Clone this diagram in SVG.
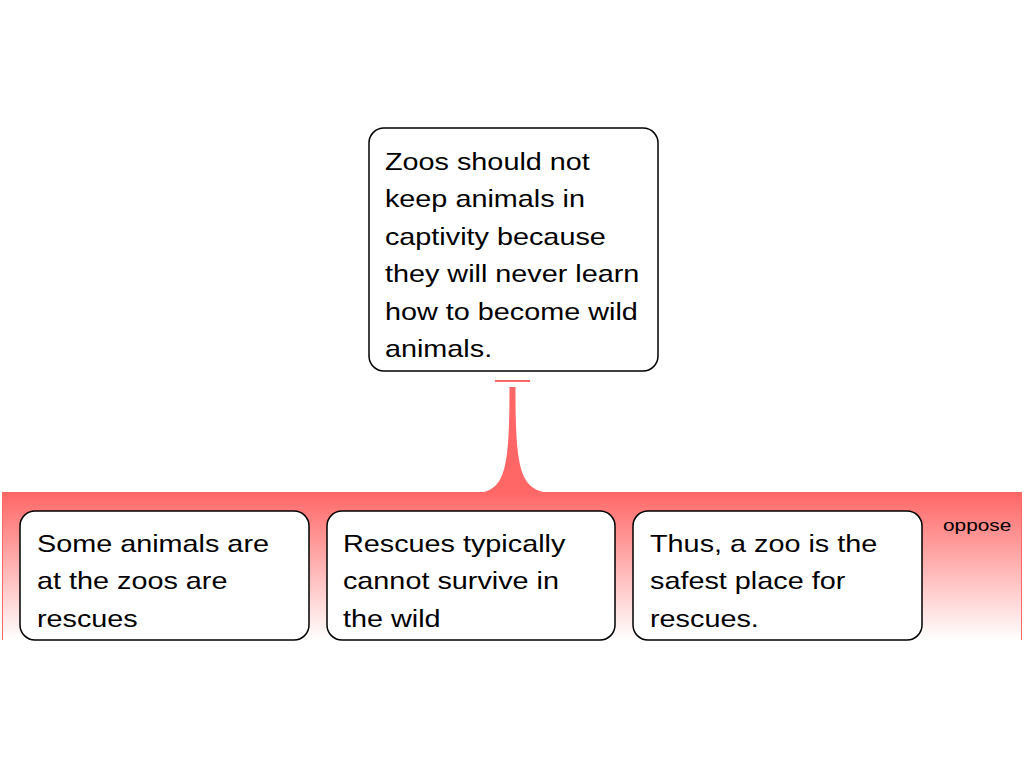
<svg xmlns="http://www.w3.org/2000/svg" width="1024" height="768" viewBox="0 0 1024 768">
<style>
.box{fill:#fff;stroke:#000;stroke-width:1.5}
.t{font-family:"Liberation Sans",Arial,sans-serif;font-size:24px;fill:#000}
.s{font-family:"Liberation Sans",Arial,sans-serif;font-size:16px;fill:#000}
</style>
<defs>
<linearGradient id="g" x1="0" y1="0" x2="0" y2="1">
<stop offset="0" stop-color="#ff6666"/>
<stop offset="1" stop-color="#ffffff"/>
</linearGradient>
</defs>
<rect width="1024" height="768" fill="#fff"/>
<g id="connectors">
<rect x="2" y="492" width="1020" height="148" fill="url(#g)"/>
<line x1="2.5" y1="492" x2="2.5" y2="640" stroke="#ff6666" stroke-width="1"/>
<line x1="1021.5" y1="492" x2="1021.5" y2="640" stroke="#ff6666" stroke-width="1"/>
<line x1="495" y1="381" x2="530" y2="381" stroke="#ff6666" stroke-width="2"/>
<path d="M509.5,387 L515.5,387 C515.5,470 520,490 550,493 L478,493 C505,490 509.5,470 509.5,387 Z" fill="#ff6666"/>
<g transform="scale(1.3,1)"><text class="s" x="725.4" y="531">oppose</text></g>
</g>
<g id="claim">
<rect class="box" x="369" y="128" width="289" height="243" rx="15"/>
<g transform="scale(1.2,1)">
<text class="t" x="320.8" y="170">Zoos should not</text>
<text class="t" x="320.8" y="207">keep animals in</text>
<text class="t" x="320.8" y="245">captivity because</text>
<text class="t" x="320.8" y="282">they will never learn</text>
<text class="t" x="320.8" y="320">how to become wild</text>
<text class="t" x="320.8" y="357">animals.</text>
</g>
</g>
<g id="reason1">
<rect class="box" x="20" y="511" width="289" height="129" rx="15"/>
<g transform="scale(1.2,1)">
<text class="t" x="30.8" y="552">Some animals are</text>
<text class="t" x="30.8" y="589">at the zoos are</text>
<text class="t" x="30.8" y="627">rescues</text>
</g>
</g>
<g id="reason2">
<rect class="box" x="327" y="511" width="288" height="129" rx="15"/>
<g transform="scale(1.2,1)">
<text class="t" x="285.8" y="552">Rescues typically</text>
<text class="t" x="285.8" y="589">cannot survive in</text>
<text class="t" x="285.8" y="627">the wild</text>
</g>
</g>
<g id="reason3">
<rect class="box" x="633" y="511" width="289" height="129" rx="15"/>
<g transform="scale(1.2,1)">
<text class="t" x="541.7" y="552">Thus, a zoo is the</text>
<text class="t" x="541.7" y="589">safest place for</text>
<text class="t" x="541.7" y="627">rescues.</text>
</g>
</g>
</svg>
